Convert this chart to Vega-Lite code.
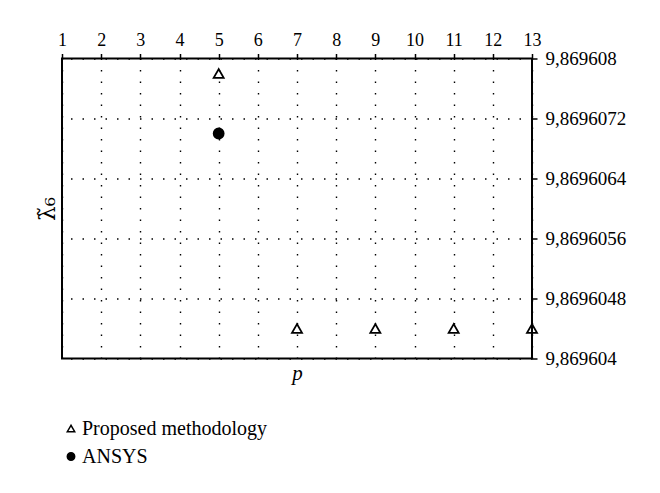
{
  "$schema": "https://vega.github.io/schema/vega-lite/v6.json",
  "width": 470,
  "height": 300,
  "autosize": {"type": "none"},
  "padding": {"left": 62, "top": 58.5, "right": 128, "bottom": 134.5},
  "background": "white",
  "config": {
    "view": {"stroke": "black", "strokeWidth": 2},
    "font": "Liberation Serif",
    "axis": {
      "labelFont": "Liberation Serif",
      "titleFont": "Liberation Serif",
      "labelColor": "black",
      "titleColor": "black",
      "tickColor": "black",
      "tickWidth": 1.5,
      "tickSize": 5,
      "domain": false,
      "gridColor": "black",
      "gridOpacity": 1,
      "gridDash": [1.5, 10],
      "gridWidth": 1.4,
      "labelFlush": false,
      "labelOverlap": false,
      "titleFontWeight": "normal"
    },
    "legend": {
      "labelFont": "Liberation Serif",
      "labelFontSize": 20,
      "labelColor": "black",
      "labelLimit": 400,
      "symbolSize": 55,
      "symbolStrokeColor": "black",
      "symbolStrokeWidth": 1.5,
      "padding": 0
    }
  },
  "data": {
    "values": [
      {"p": 5, "lambda": 9.8696078, "series": "Proposed methodology"},
      {"p": 7, "lambda": 9.8696044, "series": "Proposed methodology"},
      {"p": 9, "lambda": 9.8696044, "series": "Proposed methodology"},
      {"p": 11, "lambda": 9.8696044, "series": "Proposed methodology"},
      {"p": 13, "lambda": 9.8696044, "series": "Proposed methodology"},
      {"p": 5, "lambda": 9.869607, "series": "ANSYS"}
    ]
  },
  "layer": [
    {
      "mark": {"type": "point", "opacity": 0},
      "encoding": {
        "x": {
          "field": "p",
          "type": "quantitative",
          "scale": {"domain": [1, 13], "nice": false, "zero": false},
          "axis": {"orient": "bottom", "title": "p", "labels": false, "ticks": false, "grid": false, "titleFontStyle": "italic", "titleFontSize": 21, "titlePadding": 4}
        },
        "y": {
          "field": "lambda",
          "type": "quantitative",
          "scale": {"domain": [9.869604, 9.869608], "nice": false, "zero": false},
          "axis": {"orient": "left", "title": "λ̃₆", "titleFont": "DejaVu Serif", "labels": false, "ticks": false, "grid": false, "titleFontSize": 23, "titlePadding": 3}
        }
      }
    },
    {
      "mark": {"type": "point", "filled": true, "opacity": 1, "strokeWidth": 1.8, "size": 100},
      "encoding": {
        "x": {
          "field": "p",
          "type": "quantitative",
          "scale": {"domain": [1, 13], "nice": false, "zero": false},
          "axis": {"orient": "top", "title": null, "values": [1,2,3,4,5,6,7,8,9,10,11,12,13], "labelFontSize": 18, "labelPadding": 4, "grid": true}
        },
        "y": {
          "field": "lambda",
          "type": "quantitative",
          "scale": {"domain": [9.869604, 9.869608], "nice": false, "zero": false},
          "axis": {
            "orient": "right",
            "title": null,
            "values": [9.869604, 9.8696048, 9.8696056, 9.8696064, 9.8696072, 9.869608],
            "labelExpr": "replace(format(datum.value, '.7~f'), '.', ',')",
            "labelFontSize": 19,
            "labelPadding": 8,
            "grid": true
          }
        },
        "shape": {
          "field": "series",
          "type": "nominal",
          "scale": {"domain": ["Proposed methodology", "ANSYS"], "range": ["triangle-up", "circle"]},
          "legend": {"title": null, "orient": "none", "legendX": -1, "legendY": 360, "labelOffset": 1, "rowPadding": 8, "symbolStrokeColor": "black", "symbolSize": 55}
        },
        "fill": {
          "field": "series",
          "type": "nominal",
          "scale": {"domain": ["Proposed methodology", "ANSYS"], "range": ["transparent", "black"]},
          "legend": {"title": null, "orient": "none", "legendX": -1, "legendY": 360, "labelOffset": 1, "rowPadding": 8, "symbolStrokeColor": "black", "symbolSize": 55}
        },
        "stroke": {
          "field": "series",
          "type": "nominal",
          "scale": {"domain": ["Proposed methodology", "ANSYS"], "range": ["black", "black"]},
          "legend": {"title": null, "orient": "none", "legendX": -1, "legendY": 360, "labelOffset": 1, "rowPadding": 8, "symbolStrokeColor": "black", "symbolSize": 55}
        }
      }
    }
  ],
  "resolve": {"axis": {"x": "independent", "y": "independent"}}
}
